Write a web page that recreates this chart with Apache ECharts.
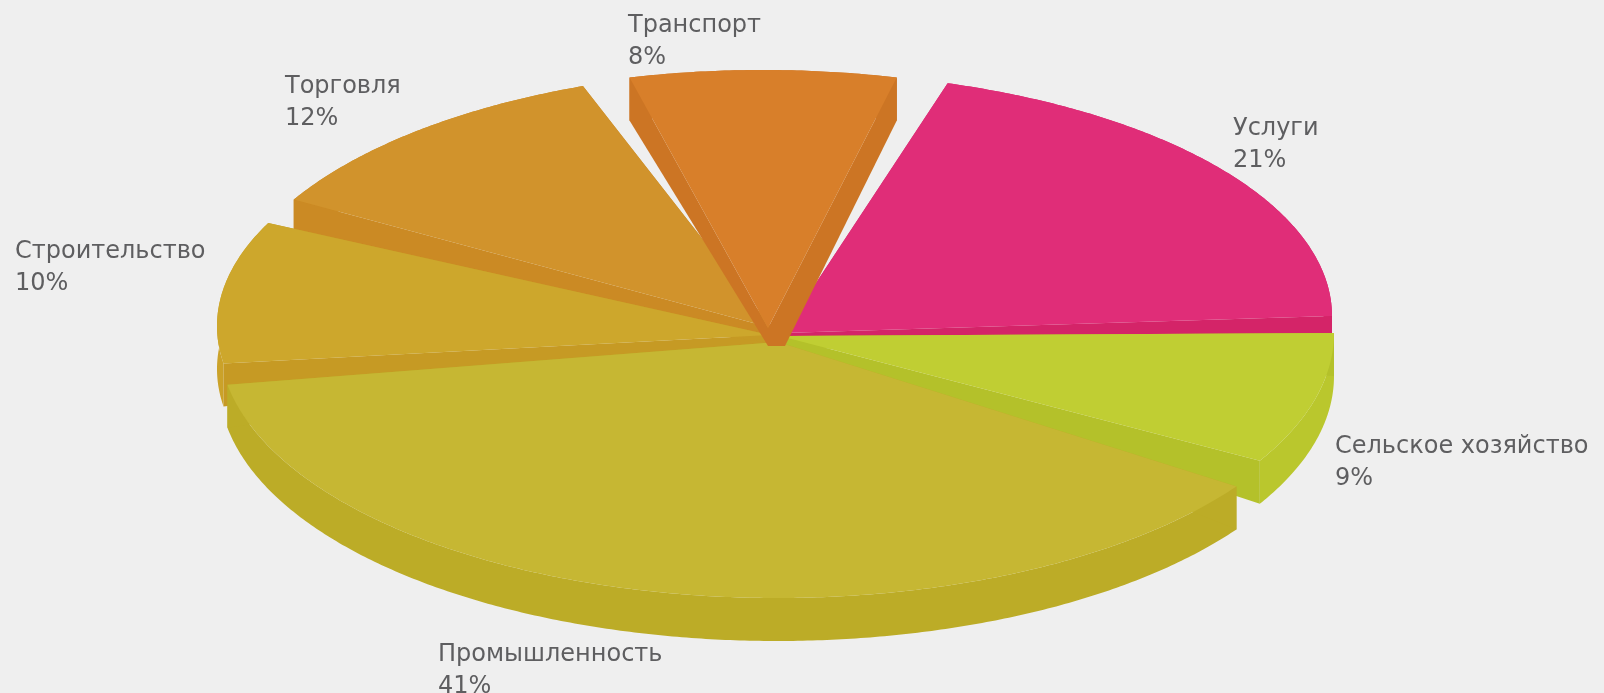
<!DOCTYPE html>
<html lang="ru">
<head>
    <meta charset="UTF-8">
    <title>Структура</title>
    <style>
        html, body { margin: 0; padding: 0; background: #efefef; }
        #main { width: 1604px; height: 693px; }
    </style>
</head>
<body>
<div id="main"></div>
<script src="https://cdn.jsdelivr.net/npm/echarts@6/dist/echarts.min.js"></script>
<script>
    // данные, по часовой стрелке от 3 часов
    const categories = ['Сельское хозяйство', 'Промышленность', 'Строительство', 'Торговля', 'Транспорт', 'Услуги'];
    const shares = [9, 41, 10, 12, 8, 21];

    // оформление каждого сектора (в том же порядке)
    const topColors = ['#c0ce33', '#c6b733', '#cda72c', '#d1932c', '#d87f2a', '#e02d78'];
    const wallColors = ['#b4c12a', '#bcac27', '#c69a24', '#cb8a24', '#cc7524', '#d42468'];
    const outerColors = ['#bac72d', '#bcac27', '#cba229', '#cb8a24', '#cc7524', '#d42468'];
    const rimCenters = [[783, 333], [777, 340], [770, 326], [777, 325], [763, 325], [783, 316]];
    const rimRadii = [[551, 255], [558, 258], [553, 245], [555, 255], [555, 255], [549, 244]];
    const apexes = [[780, 336], [778, 342], [770, 335], [772, 328], [768, 328], [783, 333]];
    const apexDepths = [10, 4, 8, 8, 18, 3];
    const apexSpread = [0, 0, 0, 0, 17, 0];
    const trimStart = [0, 2.5, -7, -4.4, -0.55, 2.3];
    const trimEnd = [2, 8.2, 9, 7.1, 1.2, 0];
    const labelPos = [[1335, 447], [438, 655], [15, 252], [285, 87], [628, 26], [1233, 129]];
    const drawOrder = [5, 0, 3, 2, 1, 4];
    const depth = 43;

    const total = shares.reduce((a, b) => a + b, 0);

    function rimPoints(i, start, end) {
        const pts = [];
        const steps = Math.ceil(end - start) * 2;
        for (let k = 0; k <= steps; k++) {
            const a = (start + (end - start) * k / steps) * Math.PI / 180;
            pts.push([
                rimCenters[i][0] + rimRadii[i][0] * Math.cos(a),
                rimCenters[i][1] + rimRadii[i][1] * Math.sin(a)
            ]);
        }
        return pts;
    }

    function renderSlice(params, api) {
        const i = api.value(0);
        const before = shares.slice(0, i).reduce((a, b) => a + b, 0);
        const start = before / total * 360 + trimStart[i];
        const end = (before + shares[i]) / total * 360 - trimEnd[i];
        const rim = rimPoints(i, start, end);
        const low = rim.map(p => [p[0], p[1] + depth]);
        const apex = apexes[i];
        const lowY = apex[1] + apexDepths[i];
        const first = rim[0];
        const last = rim[rim.length - 1];
        const wallStyle = {fill: wallColors[i]};
        return {
            type: 'group',
            children: [
                {type: 'polygon', shape: {points: rim.concat(low.slice().reverse())}, style: {fill: outerColors[i]}},
                {type: 'polygon', shape: {points: [apex, first, low[0], [apex[0], lowY]]}, style: wallStyle},
                {type: 'polygon', shape: {points: [apex, last, low[low.length - 1], [apex[0] + apexSpread[i], lowY], [apex[0], lowY]]}, style: wallStyle},
                {type: 'polygon', shape: {points: [apex].concat(rim)}, style: {fill: topColors[i]}},
                {
                    type: 'text',
                    style: {
                        text: categories[i] + '\n' + shares[i] + '%',
                        x: labelPos[i][0],
                        y: labelPos[i][1] - 16,
                        font: '24px "DejaVu Sans"',
                        lineHeight: 32,
                        fill: '#5e5e60'
                    }
                }
            ]
        };
    }

    const myChart = echarts.init(document.getElementById('main'));
    myChart.setOption({
        backgroundColor: '#efefef',
        animation: false,
        series: {
            type: 'custom',
            coordinateSystem: 'none',
            renderItem: renderSlice,
            data: drawOrder.map(i => [i])
        }
    });
</script>
</body>
</html>
